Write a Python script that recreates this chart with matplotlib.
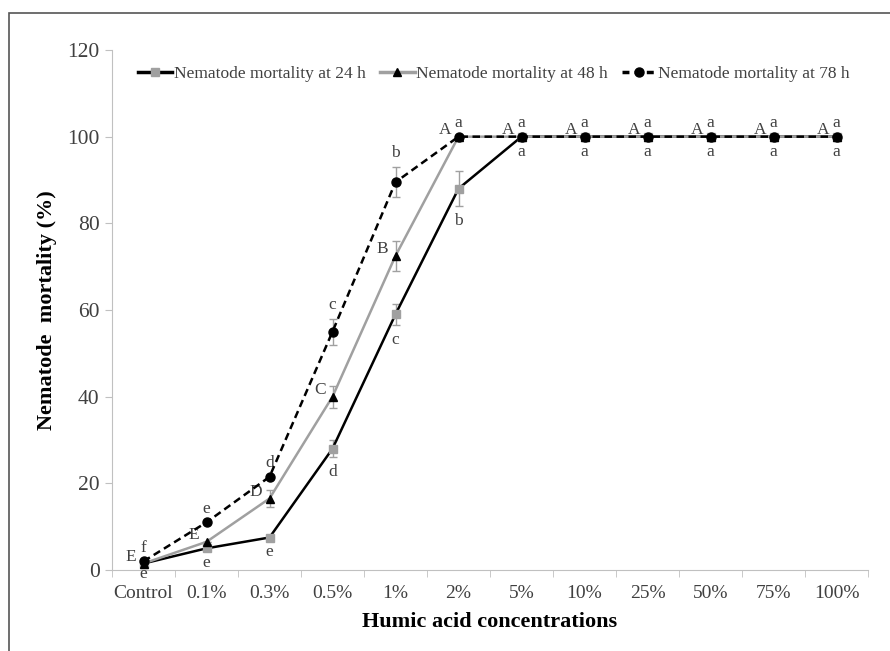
import numpy as np
import matplotlib.pyplot as plt
from matplotlib.patches import Rectangle
from matplotlib.lines import Line2D

plt.rcParams['font.family'] = ['Liberation Serif', 'DejaVu Serif']

conc = ["Control", "0.1%", "0.3%", "0.5%", "1%", "2%", "5%", "10%", "25%", "50%", "75%", "100%"]
m24 = [1.5, 5, 7.5, 28, 59, 88, 100, 100, 100, 100, 100, 100]
m48 = [1.5, 6.5, 16.5, 40, 72.5, 100, 100, 100, 100, 100, 100, 100]
m78 = [2, 11, 21.5, 55, 89.5, 100, 100, 100, 100, 100, 100, 100]
e24 = [0, 0, 0, 2, 2.5, 4, 0, 0, 0, 0, 0, 0]
e48 = [0, 0, 2, 2.5, 3.5, 0, 0, 0, 0, 0, 0, 0]
e78 = [0, 0, 0, 3, 3.5, 0, 0, 0, 0, 0, 0, 0]
lab24 = ["e", "e", "e", "d", "c", "b", "a", "a", "a", "a", "a", "a"]
lab48 = ["E", "E", "D", "C", "B", "A", "A", "A", "A", "A", "A", "A"]
lab78 = ["f", "e", "d", "c", "b", "a", "a", "a", "a", "a", "a", "a"]

fig = plt.figure(figsize=(8.9, 6.51), dpi=100)
fig.patches.append(Rectangle((9/890, -0.1), 1.0, 1 - 13/651 + 0.1, transform=fig.transFigure,
                             fill=False, edgecolor="#555555", lw=1.2))
ax = fig.add_axes([112/890, 1 - 570/651, 756/890, 520/651])

x = np.arange(len(conc))
gray = "#a0a0a0"
txt = "#404040"
dash = (0, (3, 1.8))

ax.errorbar(x, m24, yerr=e24, color="black", lw=1.8, marker="s", ms=6, mfc=gray, mec=gray,
            ecolor=gray, elinewidth=1, capsize=3, zorder=2)
ax.errorbar(x, m48, yerr=e48, color=gray, lw=1.8, marker="^", ms=6, mfc="black", mec="black",
            ecolor=gray, elinewidth=1, capsize=3, zorder=3)
ax.errorbar(x, m78, yerr=e78, color="black", lw=1.8, ls=dash, marker="o", ms=6.5,
            mfc="black", mec="black", ecolor=gray, elinewidth=1, capsize=3, zorder=4)

for i in x:
    dy = -2 if i == 0 else -5
    ax.annotate(lab24[i], (i, m24[i] - e24[i]), xytext=(0, dy), textcoords="offset points",
                ha="center", va="top", fontsize=12.5, color=txt)
    ax.annotate(lab48[i], (i, m48[i]), xytext=(-5, -1), textcoords="offset points",
                ha="right", va="bottom", fontsize=12.5, color=txt)
    ax.annotate(lab78[i], (i, m78[i] + e78[i]), xytext=(0, 4), textcoords="offset points",
                ha="center", va="bottom", fontsize=12.5, color=txt)

ax.set_xlim(-0.5, len(conc) - 0.5)
ax.set_ylim(0, 120)
ax.set_yticks(range(0, 121, 20))
ax.set_xticks(x)
ax.set_xticklabels(conc)
ax.set_xticks(np.arange(-0.5, len(conc), 1), minor=True)
ax.tick_params(axis="x", which="major", length=0, pad=11, labelsize=14, labelcolor=txt)
ax.tick_params(axis="x", which="minor", length=5, color="#c0c0c0", direction="out")
ax.tick_params(axis="y", length=5, color="#c0c0c0", labelsize=15.5, labelcolor=txt, pad=4)
for s in ["top", "right"]:
    ax.spines[s].set_visible(False)
for s in ["left", "bottom"]:
    ax.spines[s].set_color("#c0c0c0")

ax.set_xlabel("Humic acid concentrations", fontsize=16, fontweight="bold", labelpad=7)
ax.set_ylabel("Nematode  mortality (%)", fontsize=16, fontweight="bold", labelpad=7)

handles = [
    Line2D([], [], color="black", lw=2.5, marker="s", ms=6, mfc=gray, mec=gray),
    Line2D([], [], color=gray, lw=2.5, marker="^", ms=6, mfc="black", mec="black"),
    Line2D([], [], color="black", lw=2.5, ls=(0, (2, 1.5)), marker="o", ms=6.5, mfc="black", mec="black"),
]
labels = ["Nematode mortality at 24 h", "Nematode mortality at 48 h", "Nematode mortality at 78 h"]
ax.legend(handles, labels, loc="upper center", bbox_to_anchor=(0.505, 1.0), ncol=3, frameon=False,
          fontsize=12.5, handlelength=2.0, handletextpad=0.1, columnspacing=0.8, labelcolor=txt)

fig.savefig("out.png", dpi=100)
